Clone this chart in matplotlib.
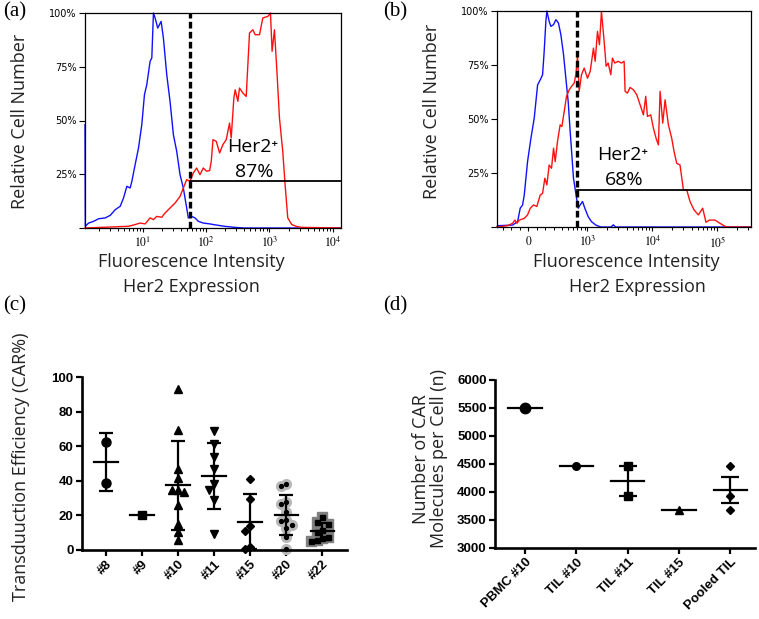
import numpy as np
import matplotlib
matplotlib.use('Agg')
import matplotlib.pyplot as plt

plt.rcParams['mathtext.fontset'] = 'stix'
SANS = ['Open Sans', 'DejaVu Sans']
BOLD = ['Liberation Sans', 'DejaVu Sans']
SERIF = ['Liberation Serif', 'DejaVu Serif']

# (a) flow histogram: (log10 intensity, % of max)
a_blue = [(0.087, 48), (0.092, 0.8), (0.144, 2.3), (0.223, 3.1), (0.302, 4.3),
          (0.407, 4.7), (0.486, 5.9), (0.564, 8.5), (0.643, 10.1), (0.696, 14.0),
          (0.748, 19.4), (0.800, 18.6), (0.827, 21.7), (0.879, 29.5), (0.932, 37.2),
          (0.984, 48.1), (1.026, 62.0), (1.063, 66.7), (1.115, 77.5), (1.142, 79.1),
          (1.168, 100), (1.194, 97.7), (1.236, 93.0), (1.289, 96.1), (1.325, 88.4),
          (1.378, 71.3), (1.430, 58.9), (1.483, 43.4), (1.535, 35.7), (1.588, 24.8),
          (1.640, 18.6), (1.693, 9.3), (1.719, 4.7), (1.772, 5.4), (1.824, 4.7),
          (1.877, 3.1), (1.955, 2.3), (2.060, 1.9), (2.134, 1.5), (2.290, 0.8),
          (2.450, 0.3), (2.600, 0), (4.130, 0)]
a_red = [(0.087, 0), (0.774, 0.8), (0.879, 1.6), (0.958, 2.3), (1.037, 1.9),
         (1.115, 4.7), (1.168, 3.9), (1.220, 5.4), (1.299, 5.0), (1.352, 7.0),
         (1.430, 9.3), (1.509, 11.6), (1.588, 14.7), (1.640, 18.6), (1.693, 22.5),
         (1.745, 21.7), (1.798, 25.6), (1.850, 27.9), (1.903, 24.8), (1.955, 27.9),
         (2.008, 26.4), (2.055, 26.7), (2.081, 31.0), (2.108, 41.1), (2.160, 40.3),
         (2.213, 34.9), (2.265, 38.8), (2.318, 41.1), (2.344, 45.0), (2.370, 48.8),
         (2.396, 41.9), (2.438, 60.5), (2.459, 64.3), (2.501, 58.9), (2.527, 65.1),
         (2.580, 62.8), (2.633, 61.2), (2.685, 90.7), (2.737, 92.2), (2.774, 89.9),
         (2.843, 89.9), (2.895, 97.7), (2.974, 98.4), (3.016, 100), (3.042, 82.2),
         (3.079, 92.2), (3.121, 71.3), (3.158, 51.2), (3.210, 35.7), (3.247, 20.2),
         (3.289, 4.7), (3.352, 1.6), (3.420, 0.8), (3.499, 0.3), (4.130, 0)]
a_gate = 55.6
a_gate_level = 21.7
a_pos = '87%'

# (b) flow histogram: (intensity, % of max)
b_blue = [(-370, 0), (-362, 0.6), (-185, 0.9), (-126, 2.5), (-95, 8.7), (-67, 10.2),
          (-47, 14.8), (-8, 30.3), (32, 41.1), (71, 50.4), (111, 65.8), (142, 68.1),
          (170, 70.5), (189, 81.3), (209, 95.2), (221, 100), (248, 95.2), (268, 92.9),
          (300, 93.7), (326, 96.0), (357, 94.4), (389, 89.0), (428, 79.7), (464, 68.9),
          (504, 58.1), (541, 44.2), (574, 33.4), (608, 22.6), (661, 15.6), (718, 8.7),
          (771, 10.2), (838, 11.8), (910, 8.7), (1024, 4.8), (1151, 2.5), (1343, 0.9),
          (1600, 0), (2300, 0), (2500, 1.0), (2700, 0), (330000, 0)]
b_red = [(-370, 0), (-245, 0.6), (-185, 1.7), (-158, 3.2), (-134, 1.7), (-106, 3.2),
         (-47, 4.0), (-8, 5.6), (24, 8.7), (63, 10.2), (102, 9.5), (142, 14.8),
         (170, 15.6), (197, 22.6), (221, 19.5), (248, 28.7), (276, 27.2), (300, 36.5),
         (318, 30.3), (345, 39.6), (379, 47.3), (403, 46.5), (438, 53.5), (475, 60.5),
         (523, 63.5), (568, 65.1), (624, 66.6), (661, 70.5), (702, 79.0), (745, 62.8),
         (808, 70.5), (889, 73.6), (1000, 68.9), (1099, 72.0), (1236, 82.8), (1312, 76.7),
         (1426, 90.6), (1528, 84.4), (1641, 99.8), (1804, 86.0), (1937, 74.4), (2080, 75.9),
         (2286, 70.5), (2422, 78.2), (2631, 75.9), (2966, 76.7), (3336, 75.9), (3665, 76.7),
         (3795, 62.8), (4122, 62.0), (4530, 64.6), (5106, 63.5), (5742, 61.2), (6459, 56.6),
         (7263, 51.9), (7890, 60.5), (8379, 51.2), (9423, 51.9), (10353, 45.8), (11379, 41.1),
         (12363, 38.0), (13125, 62.8), (14424, 48.1), (15672, 58.9), (17625, 47.3),
         (19821, 41.1), (21534, 35.0), (23667, 29.5), (26616, 28.7), (30000, 17.2),
         (33750, 17.2), (37950, 11.8), (43770, 7.9), (51060, 5.6), (59460, 8.7),
         (66840, 2.2), (75360, 3.2), (92070, 3.2), (109920, 1.7), (126510, 0.6),
         (140000, 0), (330000, 0)]
b_gate = 680
b_gate_level = 17.3
b_pos = '68%'

# (c) transduction efficiency (CAR%) per donor
c_groups = ['#8', '#9', '#10', '#11', '#15', '#20', '#22']
c_8 = [62.5, 39.0]
c_9 = [20.2]
c_10 = [93.3, 69.6, 46.7, 41.4, 34.6, 34.6, 33.5, 26.0, 15.0, 10.2, 5.8]
c_11 = [68.7, 61.5, 53.5, 46.6, 37.9, 34.6, 28.9, 9.2]
c_15 = [41.0, 29.2, 14.0, 11.2, 1.9, 0.4]
c_20 = [38.1, 37.1, 27.5, 26.5, 22.1, 17.3, 16.9, 14.4, 12.5, 7.7, 0.6]
c_22 = [18.9, 16.3, 14.8, 11.8, 10.6, 7.5, 6.8, 6.0, 5.2]

# (d) CAR molecules per cell
d_groups = ['PBMC #10', 'TIL #10', 'TIL #11', 'TIL #15', 'Pooled TIL']
d_pbmc10 = [5500]
d_til10 = [4470]
d_til11 = [4470, 3935]
d_til15 = [3670]
d_pooled = [4470, 3935, 3680]

W, H = 759, 619
fig = plt.figure(figsize=(W / 100, H / 100), dpi=100)


def rect(l, t, r, b):
    return [l / W, 1 - b / H, (r - l) / W, (b - t) / H]


def ftext(x, y, s, **kw):
    fig.text(x / W, 1 - y / H, s, **kw)


def swarm(vals, px_x, px_y, step=0.16, wx=5.0, wy=7.5):
    # simple column-dodge so close values sit side by side
    vals = np.asarray(vals, float)
    offs = np.zeros(len(vals))
    placed = []
    for i in np.argsort(-vals, kind='stable'):
        for c in [0, -1, 1, -2, 2]:
            dx = c * step
            if all(abs(dx - ox) * px_x >= wx or abs(vals[i] - ov) * px_y >= wy
                   for ox, ov in placed):
                break
        offs[i] = dx
        placed.append((dx, vals[i]))
    return offs


def flow_axes(ax):
    for s in ax.spines.values():
        s.set_linewidth(0.9)
    ax.set_ylim(0, 100)
    ax.set_yticks([0, 25, 50, 75, 100])
    ax.set_yticklabels(['', '25%', '50%', '75%', '100%'], fontsize=7,
                       family='DejaVu Sans')
    ax.tick_params(axis='y', direction='out', length=4, width=0.8, pad=2)
    ax.tick_params(axis='x', which='major', direction='out', length=3, width=0.8,
                   pad=2.5, labelsize=8.5)
    ax.tick_params(axis='x', which='minor', direction='out', length=2, width=0.7)


# ---- (a)
ax = fig.add_axes(rect(85, 13, 341, 228))
bx, by = zip(*a_blue)
rx, ry = zip(*a_red)
ax.plot(10 ** np.array(bx), by, color='#1010ff', lw=1.0, clip_on=False)
ax.plot(10 ** np.array(rx), ry, color='#ff1010', lw=1.0, clip_on=False)
ax.set_xscale('log')
ax.set_xlim(10 ** 0.087, 10 ** 4.13)
ax.set_xticks([10, 100, 1000, 10000])
ax.set_xticklabels([r'$10^{1}$', r'$10^{2}$', r'$10^{3}$', r'$10^{4}$'])
flow_axes(ax)
ax.axvline(a_gate, color='k', lw=2.4, ls=(0, (2, 1)))
ax.plot([a_gate, 10 ** 4.13], [a_gate_level, a_gate_level], color='k', lw=1.3)
ftext(253, 147, 'Her2\u207a', fontsize=14, family=SANS, ha='center', va='center')
ftext(254, 172, a_pos, fontsize=14, family=SANS, ha='center', va='center')
ftext(191, 262, 'Fluorescence Intensity', fontsize=13, family=SANS,
      ha='center', va='center', color='#222222')
ftext(191, 287, 'Her2 Expression', fontsize=13, family=SANS,
      ha='center', va='center', color='#222222')
ftext(20, 121, 'Relative Cell Number', fontsize=13, family=SANS, rotation=90,
      ha='center', va='center', color='#222222')

# ---- (b)
ax = fig.add_axes(rect(497, 11, 751, 227))
bx, by = zip(*b_blue)
rx, ry = zip(*b_red)
ax.plot(bx, by, color='#1010ff', lw=1.0, clip_on=False)
ax.plot(rx, ry, color='#ff1010', lw=1.0, clip_on=False)
ax.set_xscale('symlog', linthresh=300, linscale=0.351, base=10)
ax.set_xlim(-370, 3.3e5)
ax.set_xticks([0, 1e3, 1e4, 1e5])
ax.set_xticklabels([r'$0$', r'$10^{3}$', r'$10^{4}$', r'$10^{5}$'])
minor = [-300, -200, -100, 100, 200, 300, 400, 500, 600, 700, 800, 900]
minor += [m * 10 ** k for k in (3, 4) for m in range(2, 10)] + [2e5, 3e5]
ax.set_xticks(minor, minor=True)
flow_axes(ax)
ax.axvline(b_gate, color='k', lw=2.4, ls=(0, (2, 1)))
ax.plot([b_gate, 3.3e5], [b_gate_level, b_gate_level], color='k', lw=1.3)
ftext(623, 155, 'Her2\u207a', fontsize=14, family=SANS, ha='center', va='center')
ftext(624, 180, b_pos, fontsize=14, family=SANS, ha='center', va='center')
ftext(626, 262, 'Fluorescence Intensity', fontsize=13, family=SANS,
      ha='center', va='center', color='#222222')
ftext(637, 287, 'Her2 Expression', fontsize=13, family=SANS,
      ha='center', va='center', color='#222222')
ftext(432, 111, 'Relative Cell Number', fontsize=13, family=SANS, rotation=90,
      ha='center', va='center', color='#222222')


def prism_axes(ax):
    for s in ['top', 'right']:
        ax.spines[s].set_visible(False)
    for s in ['left', 'bottom']:
        ax.spines[s].set_linewidth(1.9)
    ax.tick_params(direction='out', length=4, width=1.6, pad=2)
    for lab in ax.get_yticklabels():
        lab.set_fontfamily(BOLD)
        lab.set_fontweight('bold')
        lab.set_fontsize(9.5)


def mean_bar(ax, x, vals, err, hw, cap):
    m = np.mean(vals)
    ax.plot([x - hw, x + hw], [m, m], color='k', lw=1.6, zorder=4)
    if len(vals) > 1:
        ax.errorbar(x, m, yerr=err, fmt='none', ecolor='k', elinewidth=1.6,
                    capsize=cap, capthick=1.6, zorder=4)


# ---- (c)
ax = fig.add_axes(rect(82, 377, 347, 550))
c_data = [c_8, c_9, c_10, c_11, c_15, c_20, c_22]
c_marks = ['o', 's', '^', 'v', 'D', 'o', 's']
c_sizes = [6.5, 6, 6, 6, 4.5, 7, 7.5]
for i, vals in enumerate(c_data):
    xs = i + swarm(vals, 36, 1.733)
    if i == 5:
        ax.plot(xs, vals, 'o', ms=c_sizes[i], color='#b8b8b8', ls='none', clip_on=False)
        ax.plot(xs, vals, 'o', ms=2.8, color='k', ls='none', clip_on=False)
    elif i == 6:
        ax.plot(xs, vals, 's', ms=c_sizes[i], color='#808080', ls='none', clip_on=False)
        ax.plot(xs, vals, 's', ms=3.6, color='k', ls='none', clip_on=False)
    else:
        ax.plot(xs, vals, c_marks[i], ms=c_sizes[i], color='k', ls='none', clip_on=False)
    sd = np.std(vals, ddof=1) if len(vals) > 1 else 0
    mean_bar(ax, i, vals, sd, 0.33, 4.7)
ax.set_xlim(-0.67, 6.68)
ax.set_ylim(0, 100)
ax.set_yticks([0, 20, 40, 60, 80, 100])
ax.set_xticks(range(len(c_groups)))
ax.set_xticklabels(c_groups, rotation=45, ha='right', rotation_mode='anchor',
                   fontsize=9.5, fontweight='bold', family=BOLD)
prism_axes(ax)
ftext(21, 467, 'Transduuction Efficiency (CAR%)', fontsize=13, family=SANS,
      rotation=90, ha='center', va='center', color='#222222')

# ---- (d)
ax = fig.add_axes(rect(495, 380, 755, 548))
d_data = [d_pbmc10, d_til10, d_til11, d_til15, d_pooled]
d_marks = ['o', 'o', 's', '^', 'D']
d_sizes = [7.5, 5.5, 5.5, 5.5, 4.5]
for i, vals in enumerate(d_data):
    ax.plot([i] * len(vals), vals, d_marks[i], ms=d_sizes[i], color='k', ls='none')
    sem = np.std(vals, ddof=1) / np.sqrt(len(vals)) if len(vals) > 1 else 0
    mean_bar(ax, i, vals, sem, 0.325, 6.5)
ax.set_xlim(-0.585, 4.48)
ax.set_ylim(3000, 6000)
ax.set_yticks(np.arange(3000, 6001, 500))
ax.set_xticks(range(len(d_groups)))
ax.set_xticklabels(d_groups, rotation=45, ha='right', rotation_mode='anchor',
                   fontsize=9.5, fontweight='bold', family=BOLD)
prism_axes(ax)
ftext(430, 459, 'Number of CAR\nMolecules per Cell (n)', fontsize=13, family=SANS,
      rotation=90, ha='center', va='center', linespacing=1.05, color='#222222')

# panel letters
for x, y, s in [(3, 2, '(a)'), (383, 2, '(b)'), (3, 296, '(c)'), (383, 296, '(d)')]:
    ftext(x, y, s, fontsize=15, family=SERIF, ha='left', va='top')

fig.savefig('out.png', dpi=100)
